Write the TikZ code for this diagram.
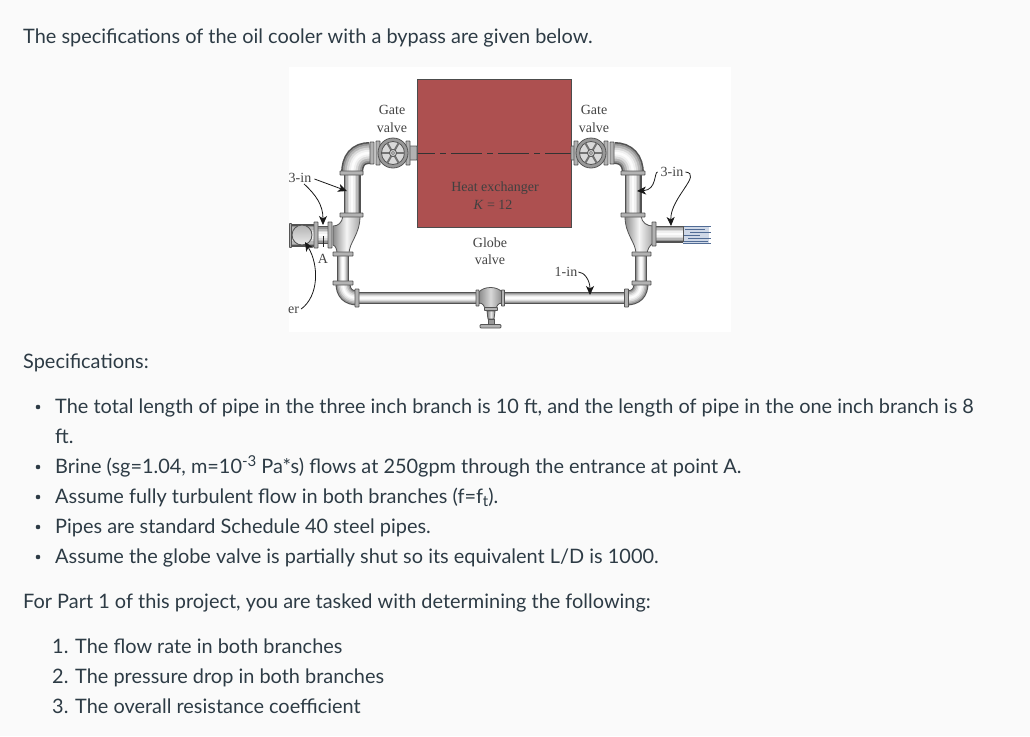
\documentclass[tikz,border=0pt]{standalone}
\usepackage{fontspec}
\setmainfont{Lato}
\newfontfamily\figfont{Liberation Serif}
\usepackage{xcolor}
\usetikzlibrary{calc,arrows.meta}
\definecolor{bodytext}{HTML}{2D3B45}
\definecolor{exchanger}{HTML}{AD5050}
\definecolor{figtext}{HTML}{444444}
\definecolor{pipeedge}{HTML}{555555}
\definecolor{waterblue}{HTML}{5F7FAF}
\tikzset{
    para/.style={anchor=base west,text=bodytext,font=\fontsize{19.92}{24}\selectfont,inner sep=0pt},
    figlabel/.style={text=figtext,font=\figfont\fontsize{14}{16}\selectfont,inner sep=0pt},
    flange/.style={fill=black!30,draw=pipeedge,line width=0.8pt},
    callout/.style={black!90,line width=0.8pt,-{Stealth[length=9pt,width=8pt,inset=2.5pt]}}
}
% pipe: a stroke laid over itself, narrower and lighter every time
\def\pipe[#1]#2{%
    \foreach \f/\c in {1/68,0.86/42,0.7/28,0.5/15,0.3/6,0.12/1}
        \draw[line width=\f*#1pt,black!\c] #2;}
\def\flangebar(#1,#2,#3,#4){\draw[flange,rounded corners=0.5pt] (#1-#3,#2-#4) rectangle (#1+#3,#2+#4)}
\def\gatewheel(#1,#2){%
    \draw[fill=black!40,draw=pipeedge,line width=0.8pt] (#1,#2) circle (15);
    \draw[fill=black!15,draw=pipeedge,line width=0.8pt] (#1,#2) circle (11.5);
    \foreach \a in {0,60,...,300}
        \draw[line width=2pt,black!55] (#1,#2) -- ++(\a:11.5);
    \draw[fill=black!20,draw=pipeedge,line width=0.8pt] (#1,#2) circle (3.6);
    \draw[fill=white,draw=pipeedge,line width=0.6pt] (#1,#2) circle (1.5);}
\begin{document}
\begin{tikzpicture}[x=1pt,y=-1pt]
    \useasboundingbox (0,0) rectangle (1030,736);
    \fill[white!98!black] (0,0) rectangle (1030,736);
    \fill[white] (289,67) rectangle (731,332);
    % text
    \node[para] (title) at (23,43) {The specifications of the oil cooler with a bypass are given below.};
    \node[para] (specs) at (23,368) {Specifications:};
    \foreach \y in {407,467,497,527,557}
        \fill[bodytext] (38,\y) circle (2.3);
    \node[para] (lineA) at (55,413) {The total length of pipe in the three inch branch is 10 ft, and the length of pipe in the one inch branch is 8};
    \node[para] (lineAb) at (55,443) {ft.};
    \node[para] (lineB) at (55,473) {Brine (sg=1.04, m=10\raisebox{7pt}{\fontsize{15}{15}\selectfont -3} Pa*s) flows at 250gpm through the entrance at point A.};
    \node[para] (lineC) at (55,503) {Assume fully turbulent flow in both branches (f=f\raisebox{-3.5pt}{\fontsize{15}{15}\selectfont t}).};
    \node[para] (lineD) at (55,533) {Pipes are standard Schedule 40 steel pipes.};
    \node[para] (lineE) at (55,563) {Assume the globe valve is partially shut so its equivalent L/D is 1000.};
    \node[para] (task) at (23,608) {For Part 1 of this project, you are tasked with determining the following:};
    \node[para] (taskA) at (52,653) {1. The flow rate in both branches};
    \node[para] (taskB) at (52,683) {2. The pressure drop in both branches};
    \node[para] (taskC) at (52,713) {3. The overall resistance coefficient};
    % heat exchanger
    \draw[fill=exchanger,draw=black!70,line width=0.8pt] (417,79) rectangle (571,227);
    \coordinate (lineL) at (417,153);
    \coordinate (lineR) at (571,153);
    \draw[black!80,line width=0.8pt,dash pattern=on 31pt off 5pt on 6pt off 5pt,dash phase=13pt] (lineL) -- (lineR);
    % upper pipes and elbows
    \pipe[22]{(370,153) .. controls (358,153) and (352,160) .. (352,174)}
    \pipe[22]{(614,153) .. controls (626,153) and (633,160) .. (633,174)}
    \pipe[17]{(352,173) -- (352,216)}
    \pipe[17]{(633,173) -- (633,216)}
    % lower pipes and elbows
    \pipe[12]{(343,253) -- (343,284)}
    \pipe[12]{(641,253) -- (641,284)}
    \pipe[15]{(343,283) .. controls (343,293) and (348,298) .. (358,298)}
    \pipe[15]{(641,283) .. controls (641,293) and (636,298) .. (626,298)}
    \pipe[12]{(358,298) -- (480,298)}
    \pipe[12]{(500,298) -- (626,298)}
    % branches at the tees
    \pipe[23]{(291,235.5) -- (315,235.5)}
    \pipe[18]{(315,235) -- (332,235)}
    \pipe[17]{(654,234) -- (683,234)}
    % tees
    \draw[draw=pipeedge,line width=0.8pt,left color=black!45,right color=black!35,middle color=black!4]
        (343,216) .. controls (342,223) and (338,226) .. (333,226) -- (333,245)
        .. controls (336,246) and (337,250) .. (337,254) -- (349,254)
        .. controls (349,242) and (360,235) .. (360,216) -- cycle;
    \draw[draw=pipeedge,line width=0.8pt,left color=black!45,right color=black!35,middle color=black!4]
        (641,216) .. controls (642,223) and (647,226) .. (653,226) -- (653,243)
        .. controls (650,245) and (647,250) .. (647,254) -- (636,254)
        .. controls (636,242) and (625,235) .. (625,216) -- cycle;
    % flanges
    \flangebar(351.5,173,11.5,2);
    \flangebar(351.5,215,11.5,2);
    \flangebar(343,254,10,2);
    \flangebar(343,283,10,2);
    \flangebar(633,173,12,2);
    \flangebar(633,215,12,2);
    \flangebar(641.5,254,9.5,2);
    \flangebar(641.5,283,9.5,2);
    \flangebar(357,298,2,9);
    \flangebar(626.5,298,2,9);
    \flangebar(316,235,2,13);
    \flangebar(330,235,2,13);
    \flangebar(654,234,2,12);
    \flangebar(372,153,2,11);
    \flangebar(612,153,2,11);
    \flangebar(290.5,235.5,1,12);
    % inlet opening
    \draw[draw=pipeedge,line width=0.9pt,top color=black!30,bottom color=black!8] (302,235) circle (10);
    % gate valves
    \flangebar(412,153,5,7);
    \flangebar(573,153,2,7);
    \flangebar(378,153,2,12);
    \flangebar(408,153,2,12);
    \flangebar(576,153,2,12);
    \flangebar(606,153,2,12);
    \gatewheel(393,153)
    \gatewheel(591,153)
    % globe valve
    \draw[draw=pipeedge,line width=0.8pt,left color=black!45,right color=black!45,middle color=black!15]
        (479,292) .. controls (484,286) and (497,286) .. (502,292) -- (502,303)
        .. controls (498,303) and (497,306) .. (496,308) -- (485,308)
        .. controls (484,306) and (483,303) .. (479,303) -- cycle;
    \flangebar(477.5,298,1.5,8);
    \flangebar(503,298,1.5,8);
    \flangebar(491,309,6.5,1.5);
    \draw[draw=pipeedge,line width=0.8pt,left color=black!50,right color=black!50,middle color=black!10] (487,311) -- (495,311) -- (494,319) -- (488,319) -- cycle;
    \draw[draw=pipeedge,line width=0.8pt,fill=black!40] (488,319) rectangle (494,324);
    \draw[flange,rounded corners=1pt] (480,324.5) rectangle (501,328);
    % water at the outlet
    \fill[waterblue!30] (683,226) rectangle (709,243);
    \foreach \y/\xa/\xb in {226/683/711,229/685/705,232/690/711,235/683/700,238/688/711,241/683/708,243/683/711}
        \draw[waterblue!85!black,line width=1pt] (\xa,\y) -- (\xb,\y);
    \draw[pipeedge,line width=0.8pt] (683,226) -- (683,242);
    % labels
    \node[figlabel] (gateL) at (392,109.5) {Gate};
    \node[figlabel] (valveL) at (392,127.5) {valve};
    \node[figlabel] (gateR) at (594,109.5) {Gate};
    \node[figlabel] (valveR) at (594,127.5) {valve};
    \node[figlabel,text=black!75] (hx) at (495,188.5) {Heat exchanger};
    \node[figlabel,text=black!75] (hxK) at (493,204.5) {\textit{K} = 12};
    \node[figlabel] (globe) at (490,242.5) {Globe};
    \node[figlabel] (valveG) at (490,259.5) {valve};
    \node[figlabel] (pointA) at (323,259) {A};
    \node[figlabel] (sizeL) at (300,178) {3-in};
    \node[figlabel] (sizeR) at (672,172) {3-in};
    \node[figlabel] (sizeB) at (566,272) {1-in};
    \node[figlabel] (water) at (293.5,310) {er};
    % callouts
    \coordinate (tipLa) at (347,191);
    \coordinate (tipLb) at (323,225);
    \coordinate (tipW) at (305,242);
    \coordinate (tipRa) at (637,191);
    \coordinate (tipRb) at (671,226);
    \coordinate (tipB) at (590,295);
    \coordinate (markA) at (323,236);
    \coordinate (markAb) at (323,247);
    \draw[black!85,line width=0.7pt] (markA) -- (markAb);
    \draw[callout] ($(sizeL.east)+(3,1)$) -- (tipLa);
    \draw[callout] ($(sizeL.south)+(4,1)$) .. controls (316,195) and (323,205) .. (tipLb);
    \draw[callout] ($(water.east)+(2,-1)$) .. controls (319,296) and (319,265) .. (tipW);
    \draw[callout] ($(sizeR.west)+(-3,0)$) .. controls (654,172) and (657,190) .. (tipRa);
    \draw[callout] ($(sizeR.east)+(2,0)$) .. controls (703,174) and (670,198) .. (tipRb);
    \draw[callout] ($(sizeB.east)+(1,0)$) .. controls (584,272) and (590,280) .. (tipB);
\end{tikzpicture}
\end{document}
